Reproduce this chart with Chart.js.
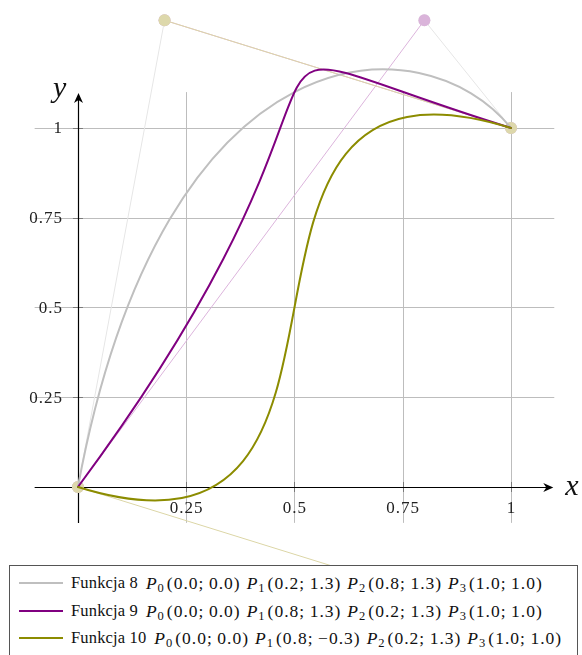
<!DOCTYPE html>
<html><head><meta charset="utf-8">
<script src="https://cdn.jsdelivr.net/npm/chart.js@4"></script>
<style>
html,body{margin:0;padding:0;background:#fff;}
#wrap{position:relative;width:582px;height:655px;overflow:hidden;}
#c{position:absolute;left:0;top:0;}
#legend{position:absolute;left:9px;top:565px;width:569px;height:100px;border:1px solid #555;background:#fff;box-sizing:border-box;font-family:'Liberation Serif','Times New Roman','DejaVu Serif',serif;color:#111;}
.row{position:absolute;left:0;height:22px;display:flex;align-items:center;white-space:nowrap;}
.sw{display:inline-block;width:44px;height:2px;margin-left:9px;margin-right:8px;}
.t{font-size:16.5px;letter-spacing:0.15px;margin-right:8px;}
.m{font-size:17.5px;letter-spacing:1px;}
.m i{font-style:italic;}
.m sub{font-size:12.5px;vertical-align:-3px;line-height:0;margin-right:2px;}
.gap{display:inline-block;width:6px;}
</style>
</head><body>
<div id="wrap">
<canvas id="c" width="582" height="655"></canvas>
<div id="legend"></div>
</div>
<script>
// ---- data ----
const functionNames = ['Funkcja 8', 'Funkcja 9', 'Funkcja 10'];
const f8Points  = [[0.0, 0.0], [0.2, 1.3], [0.8, 1.3], [1.0, 1.0]];
const f9Points  = [[0.0, 0.0], [0.8, 1.3], [0.2, 1.3], [1.0, 1.0]];
const f10Points = [[0.0, 0.0], [0.8, -0.3], [0.2, 1.3], [1.0, 1.0]];
const xTicks = [0.25, 0.5, 0.75, 1];
const xTickLabels = ['0.25', '0.5', '0.75', '1'];
const yTicks = [0.25, 0.5, 0.75, 1];
const yTickLabels = ['0.25', '0.5', '0.75', '1'];
const gridRange = [-0.1, 1.1];

// ---- styles ----
const SERIF = '"Liberation Serif", "Times New Roman", "DejaVu Serif", serif';
const curveColors = ['#bfbfbf', '#800080', '#8c8c00'];
const ctrlLineColors = ['#e6e6e6', '#dcb4dc', '#dcd6a6'];
const ctrlPointColors = ['#e6e6e6', '#dab4da', '#ddd8ab'];
const allFunctions = [f8Points, f9Points, f10Points];

const datasets = allFunctions.map((pts, i) => ({
  label: functionNames[i] + ' control',
  data: [
    {x: pts[0][0], y: pts[0][1]},
    {x: pts[1][0], y: pts[1][1]},
    {x: pts[1][0], y: null},
    {x: pts[2][0], y: pts[2][1]},
    {x: pts[3][0], y: pts[3][1]}
  ],
  showLine: true,
  spanGaps: false,
  borderColor: ctrlLineColors[i],
  borderWidth: 1,
  pointRadius: 6,
  pointHoverRadius: 6,
  pointBorderWidth: 0,
  pointBackgroundColor: ctrlPointColors[i],
  order: 3 - i
}));

const framePlugin = {
  id: 'frame',
  beforeDatasetsDraw(chart) {
    const ctx = chart.ctx, xs = chart.scales.x, ys = chart.scales.y;
    const X = v => xs.getPixelForValue(v), Y = v => ys.getPixelForValue(v);
    ctx.save();
    // grid
    ctx.strokeStyle = '#bdbdbd';
    ctx.lineWidth = 1;
    ctx.beginPath();
    yTicks.forEach(t => { ctx.moveTo(X(gridRange[0]), Math.round(Y(t)) + 0.5); ctx.lineTo(X(gridRange[1]), Math.round(Y(t)) + 0.5); });
    xTicks.forEach(t => { ctx.moveTo(Math.round(X(t)) + 0.5, Y(gridRange[1])); ctx.lineTo(Math.round(X(t)) + 0.5, Y(gridRange[0])); });
    ctx.stroke();
    // tick marks
    ctx.strokeStyle = '#7a7a7a';
    ctx.beginPath();
    const x0 = X(0), y0 = Y(0);
    yTicks.forEach(t => { ctx.moveTo(x0 - 5, Math.round(Y(t)) + 0.5); ctx.lineTo(x0 + 5, Math.round(Y(t)) + 0.5); });
    xTicks.forEach(t => { ctx.moveTo(Math.round(X(t)) + 0.5, y0 - 5); ctx.lineTo(Math.round(X(t)) + 0.5, y0 + 5); });
    ctx.stroke();
    // axes
    ctx.strokeStyle = '#000';
    ctx.fillStyle = '#000';
    ctx.lineWidth = 1.2;
    const ax = Math.round(x0) + 0.5, ay = Math.round(y0) + 0.5;
    const xEnd = X(gridRange[1]) - 1, yEnd = Y(gridRange[1]) + 1;
    ctx.beginPath();
    ctx.moveTo(X(gridRange[0]), ay); ctx.lineTo(xEnd - 3, ay);
    ctx.moveTo(ax, Y(gridRange[0])); ctx.lineTo(ax, yEnd + 3);
    ctx.stroke();
    // arrow heads
    ctx.beginPath();
    ctx.moveTo(xEnd, ay); ctx.lineTo(xEnd - 10, ay - 4.5); ctx.lineTo(xEnd - 7, ay); ctx.lineTo(xEnd - 10, ay + 4.5); ctx.closePath();
    ctx.moveTo(ax, yEnd); ctx.lineTo(ax - 4.5, yEnd + 10); ctx.lineTo(ax, yEnd + 7); ctx.lineTo(ax + 4.5, yEnd + 10); ctx.closePath();
    ctx.fill();
    // tick labels
    ctx.fillStyle = '#222';
    ctx.font = '17px ' + SERIF;
    ctx.letterSpacing = '1px';
    ctx.textAlign = 'right'; ctx.textBaseline = 'middle';
    yTicks.forEach((t, i) => ctx.fillText(yTickLabels[i], x0 - 15, Y(t) + 1));
    ctx.textAlign = 'center';
    xTicks.forEach((t, i) => ctx.fillText(xTickLabels[i], X(t) + 0.5, y0 + 22));
    ctx.letterSpacing = '0px';
    // axis titles
    ctx.fillStyle = '#111';
    ctx.font = 'italic 30px ' + SERIF;
    ctx.textAlign = 'left'; ctx.textBaseline = 'alphabetic';
    ctx.fillText('x', xEnd + 12, ay + 7);
    ctx.fillText('y', x0 - 25, yEnd + 4);
    ctx.restore();
  },
  afterDatasetsDraw(chart) {
    const ctx = chart.ctx, xs = chart.scales.x, ys = chart.scales.y;
    const X = v => xs.getPixelForValue(v), Y = v => ys.getPixelForValue(v);
    ctx.save();
    ctx.lineWidth = 2;
    ctx.lineCap = 'round';
    allFunctions.forEach((p, i) => {
      ctx.strokeStyle = curveColors[i];
      ctx.beginPath();
      ctx.moveTo(X(p[0][0]), Y(p[0][1]));
      ctx.bezierCurveTo(X(p[1][0]), Y(p[1][1]), X(p[2][0]), Y(p[2][1]), X(p[3][0]), Y(p[3][1]));
      ctx.stroke();
    });
    ctx.restore();
  }
};

new Chart(document.getElementById('c'), {
  type: 'scatter',
  data: { datasets },
  options: {
    responsive: false,
    animation: false,
    events: [],
    layout: { padding: 0, autoPadding: false },
    plugins: { legend: { display: false }, tooltip: { enabled: false } },
    scales: {
      x: { type: 'linear', min: -0.18, max: 1.164, display: false },
      y: { type: 'linear', min: -0.468, max: 1.3565, display: false }
    }
  },
  plugins: [framePlugin]
});

// legend
const fmt = v => (v < 0 ? '\u2212' : '') + Math.abs(v).toFixed(1);
const legend = document.getElementById('legend');
const rowTops = [6, 34, 61];
allFunctions.forEach((p, i) => {
  const row = document.createElement('div');
  row.className = 'row';
  row.style.top = rowTops[i] + 'px';
  let html = '<span class="sw" style="background:' + curveColors[i] + '"></span><span class="t">' + functionNames[i] + '</span><span class="m">';
  html += p.map((pt, k) => '<i>P</i><sub>' + k + '</sub>(' + fmt(pt[0]) + ';&thinsp;' + fmt(pt[1]) + ')').join('<span class="gap"></span>');
  html += '</span>';
  row.innerHTML = html;
  legend.appendChild(row);
});
</script>
</body></html>
